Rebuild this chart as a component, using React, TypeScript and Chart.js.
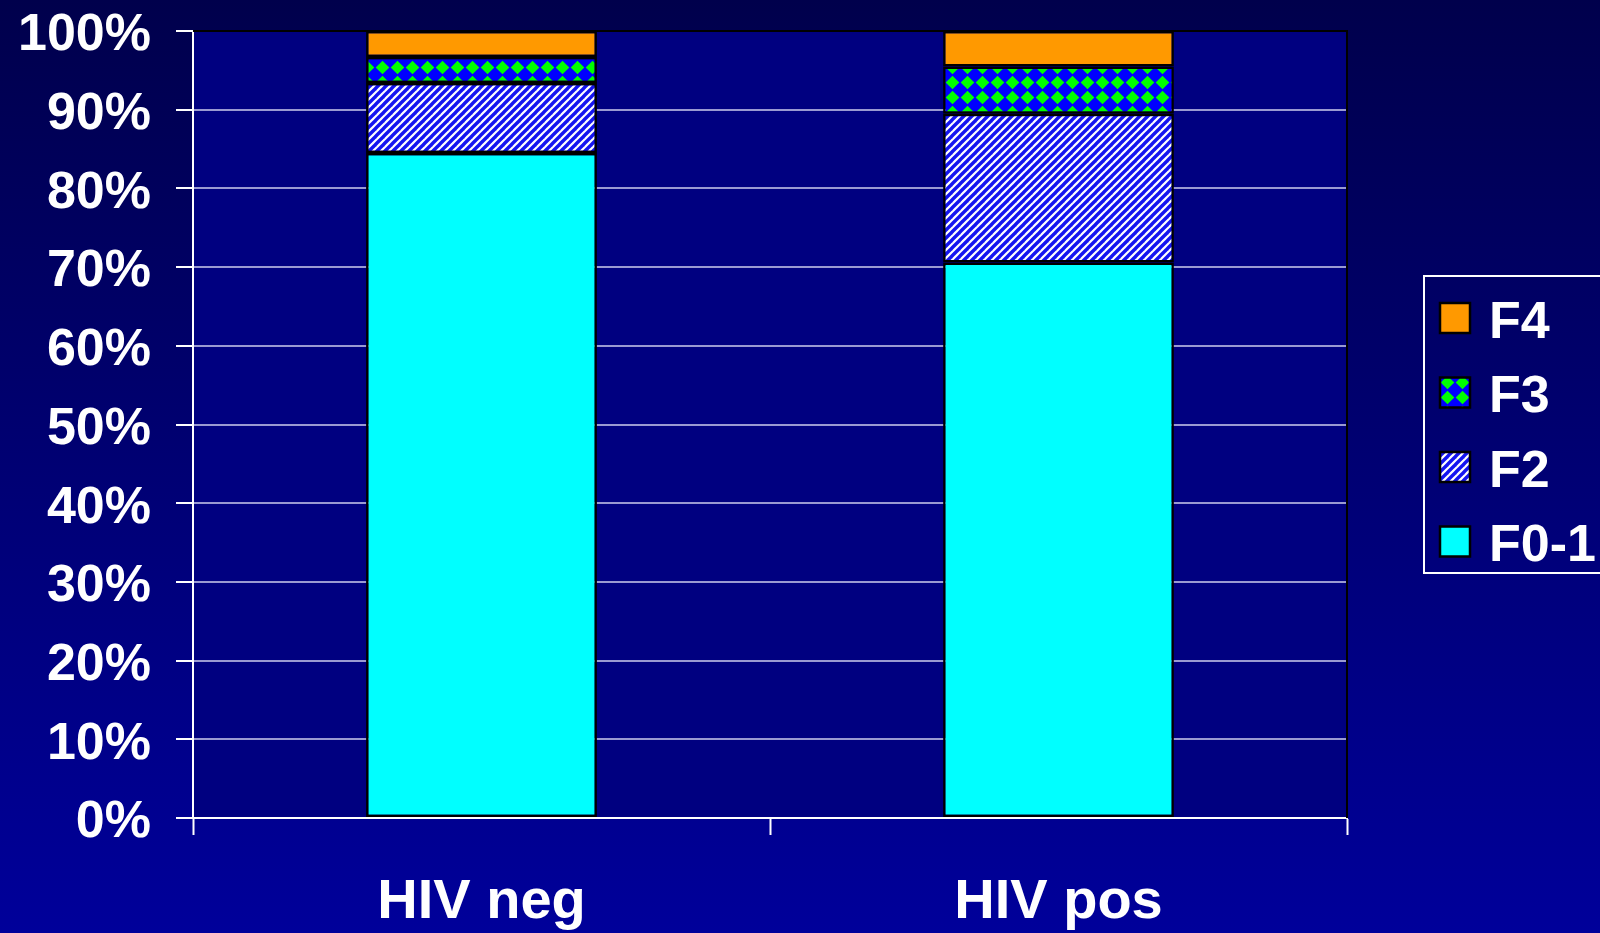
import React, { useEffect, useRef } from 'react';
import { Chart, registerables } from 'chart.js';

Chart.register(...registerables);

const categories = ['HIV neg', 'HIV pos'];
const f01Values = [84.5, 70.6];
const f2Values = [8.9, 18.9];
const f3Values = [3.3, 6.0];
const f4Values = [3.3, 4.5];
const yTickValues = [0, 10, 20, 30, 40, 50, 60, 70, 80, 90, 100];

const FONT = '"Liberation Sans", Arial, Helvetica, sans-serif';

function makeHatch(): CanvasPattern | string {
  const c = document.createElement('canvas');
  c.width = 8;
  c.height = 8;
  const g = c.getContext('2d');
  if (!g) return '#3030ff';
  g.fillStyle = '#ffffff';
  g.fillRect(0, 0, 8, 8);
  g.strokeStyle = '#1414f0';
  g.lineWidth = 3.4;
  for (const off of [-8, 0, 8]) {
    g.beginPath();
    g.moveTo(off - 2, 10);
    g.lineTo(off + 10, -2);
    g.stroke();
  }
  const p = g.createPattern(c, 'repeat');
  return p || '#3030ff';
}

function makeDiamonds(): CanvasPattern | string {
  const s = 15;
  const c = document.createElement('canvas');
  c.width = s;
  c.height = s;
  const g = c.getContext('2d');
  if (!g) return '#0000ff';
  g.fillStyle = '#0000ff';
  g.fillRect(0, 0, s, s);
  g.fillStyle = '#00ff00';
  const h = 6.8;
  const cx = s / 2;
  const cy = s / 2;
  g.beginPath();
  g.moveTo(cx, cy - h);
  g.lineTo(cx + h, cy);
  g.lineTo(cx, cy + h);
  g.lineTo(cx - h, cy);
  g.closePath();
  g.fill();
  const p = g.createPattern(c, 'repeat');
  return p || '#0000ff';
}

export default function App() {
  const canvasRef = useRef<HTMLCanvasElement | null>(null);

  useEffect(() => {
    const canvas = canvasRef.current;
    if (!canvas) return;
    const hatch = makeHatch();
    const diamonds = makeDiamonds();

    const plotBg = {
      id: 'plotBg',
      beforeDraw(chart: any) {
        const { ctx, chartArea } = chart;
        ctx.save();
        ctx.fillStyle = '#000080';
        ctx.fillRect(chartArea.left, chartArea.top, chartArea.right - chartArea.left, chartArea.bottom - chartArea.top);
        ctx.restore();
      },
      beforeDatasetsDraw(chart: any) {
        const { ctx, chartArea } = chart;
        ctx.save();
        ctx.strokeStyle = '#000000';
        ctx.lineWidth = 2;
        ctx.beginPath();
        ctx.moveTo(chartArea.left, chartArea.top);
        ctx.lineTo(chartArea.right, chartArea.top);
        ctx.lineTo(chartArea.right, chartArea.bottom);
        ctx.stroke();
        ctx.restore();
      },
    };

    const boxedLegend = {
      id: 'boxedLegend',
      afterDraw(chart: any) {
        const { ctx } = chart;
        const dsets = chart.data.datasets.slice().reverse();
        ctx.save();
        ctx.strokeStyle = '#ffffff';
        ctx.lineWidth = 2;
        ctx.strokeRect(1424, 276, 220, 297);
        dsets.forEach((ds: any, i: number) => {
          const cy = 318 + i * 74.5;
          ctx.fillStyle = ds.backgroundColor;
          ctx.fillRect(1440, cy - 15, 30, 30);
          ctx.strokeStyle = '#000000';
          ctx.lineWidth = 2.5;
          ctx.strokeRect(1440, cy - 15, 30, 30);
          ctx.fillStyle = '#ffffff';
          ctx.font = 'bold 52px ' + FONT;
          ctx.textAlign = 'left';
          ctx.textBaseline = 'alphabetic';
          ctx.fillText(ds.label, 1489, cy + 19.5);
        });
        ctx.restore();
      },
    };

    const common = {
      borderColor: '#000000',
      borderWidth: 2.5,
      borderSkipped: false as const,
      categoryPercentage: 1.0,
      barPercentage: 0.4,
    };

    const chart = new Chart(canvas, {
      type: 'bar',
      data: {
        labels: categories,
        datasets: [
          { label: 'F0-1', data: f01Values, backgroundColor: '#00ffff', ...common },
          { label: 'F2', data: f2Values, backgroundColor: hatch as any, ...common },
          { label: 'F3', data: f3Values, backgroundColor: diamonds as any, ...common },
          { label: 'F4', data: f4Values, backgroundColor: '#ff9900', ...common },
        ],
      },
      options: {
        responsive: false,
        animation: false,
        layout: { padding: { top: 31, right: 253, left: 0, bottom: 0 } },
        plugins: {
          legend: { display: false },
          tooltip: { enabled: false },
        },
        scales: {
          x: {
            stacked: true,
            offset: true,
            grid: {
              offset: true,
              drawOnChartArea: false,
              drawTicks: true,
              tickLength: 17,
              tickColor: '#ffffff',
              tickWidth: 2,
              color: '#ffffff',
            },
            border: { color: '#ffffff', width: 2 },
            ticks: {
              color: '#ffffff',
              font: { family: FONT, size: 56, weight: 'bold' },
              padding: 34,
              maxRotation: 0,
            },
            afterFit(scale: any) {
              scale.height = 115;
              scale.paddingLeft = 0;
              scale.paddingRight = 0;
            },
          },
          y: {
            stacked: true,
            min: 0,
            max: 100,
            afterBuildTicks(scale: any) {
              scale.ticks = yTickValues.map((v) => ({ value: v }));
            },
            grid: {
              color: (c: any) => (c.tick && c.tick.value === 100 ? '#000000' : '#9a9ad2'),
              lineWidth: 2,
              drawTicks: true,
              tickLength: 17,
              tickColor: '#ffffff',
              tickWidth: 2,
            },
            border: { color: '#ffffff', width: 2 },
            ticks: {
              color: '#ffffff',
              font: { family: FONT, size: 52, weight: 'bold' },
              padding: 25,
              labelOffset: 5,
              callback: (v: any) => v + '%',
            },
            afterFit(scale: any) {
              scale.width = 193;
              scale.paddingTop = 0;
              scale.paddingBottom = 0;
            },
          },
        },
      },
      plugins: [plotBg, boxedLegend],
    });

    return () => {
      chart.destroy();
    };
  }, []);

  return (
    <div
      style={{
        position: 'fixed',
        left: 0,
        top: 0,
        width: 1600,
        height: 933,
        background: 'linear-gradient(to bottom, #00004c, #00009a)',
        overflow: 'hidden',
      }}
    >
      <canvas ref={canvasRef} width={1600} height={933} style={{ display: 'block' }} />
    </div>
  );
}
